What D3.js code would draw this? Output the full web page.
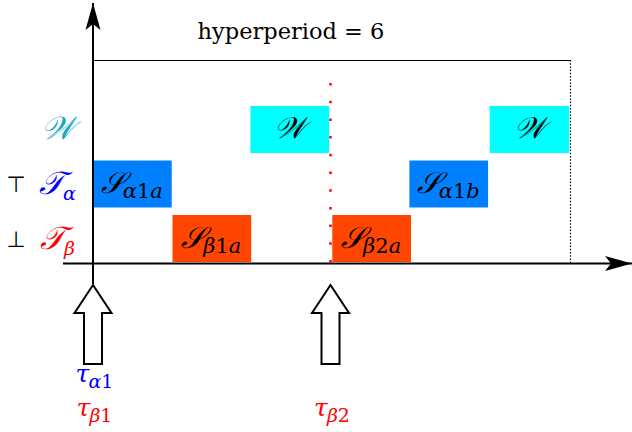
<!DOCTYPE html>
<html><head><meta charset="utf-8">
<script src="https://cdn.jsdelivr.net/npm/d3@7"></script>
<style>body{margin:0;background:#fff}svg{display:block}</style>
</head><body><svg id="c" width="632" height="432"></svg>
<script>
// ---- data ----
const rows = ["W", "Ta", "Tb"];
const rowMain = ["𝒲", "𝒯", "𝒯"];
const rowSub = ["", "α", "β"];
const rowColors = ["#1aaac4", "#0000ff", "#ff0000"];
const rowMarks = ["", "⊤", "⊥"];

const taskMain = ["𝒮", "𝒮", "𝒲", "𝒮", "𝒮", "𝒲"];
const taskSub = ["α1a", "β1a", "", "β2a", "α1b", ""];
const taskRows = ["Ta", "Tb", "W", "Tb", "Ta", "W"];
const taskStart = [0, 1, 1.98, 3.01, 3.98, 4.99];
const taskEnd = [0.99, 1.99, 2.97, 4.0, 4.97, 5.99];
const rowFill = {W: "#00ffff", Ta: "#0080ff", Tb: "#ff4500"};

const releaseTimes = [0, 3];
const releaseSubs = [["α1", "β1"], ["β2"]];
const releaseCols = [["#0000ff", "#ff0000"], ["#ff0000"]];
const deadlineTime = 3;
const hyperperiod = 6;
const hyperText = "hyperperiod = 6";

// ---- scales ----
const x = d3.scaleLinear().domain([0, hyperperiod]).range([93, 570]);
const y = d3.scaleBand().domain(rows).range([106, 262]).paddingInner(0.138).paddingOuter(0);

const svg = d3.select("#c");
const defs = svg.append("defs");
defs.append("marker").attr("id", "ah").attr("viewBox", "-28 -8 29 16")
  .attr("refX", 0).attr("refY", 0).attr("markerWidth", 29).attr("markerHeight", 16)
  .attr("markerUnits", "userSpaceOnUse").attr("orient", "auto")
  .append("path").attr("d", "M0,0 L-27,-7.5 L-21,0 L-27,7.5 Z").attr("fill", "#000");

const serif = "'DejaVu Serif', 'Liberation Serif', serif";

function mathText(sel, xx, yy, main, sub, color, mSize, sSize, anchor, drop) {
  const t = sel.append("text").attr("y", yy).attr("fill", color)
    .style("font-family", serif).style("font-size", mSize + "px").style("font-style", "italic")
    .text(main);
  const mw = t.node().getComputedTextLength();
  let s = null, sw = 0;
  if (sub) {
    s = sel.append("text").attr("y", yy + (drop != null ? drop : sSize * 0.35)).attr("fill", color)
      .style("font-family", serif).style("font-size", sSize + "px");
    for (const ch of sub) {
      s.append("tspan").text(ch).style("font-style", /[0-9]/.test(ch) ? "normal" : "italic");
    }
    sw = s.node().getComputedTextLength();
  }
  const total = mw + sw;
  const x0 = anchor === "start" ? xx : xx - total / 2;
  t.attr("x", x0);
  if (s) s.attr("x", x0 + mw - 1);
}

// blocks
const tasks = taskMain.map((m, i) => ({m, s: taskSub[i], r: taskRows[i], a: taskStart[i], b: taskEnd[i]}));
const g = svg.append("g");
g.selectAll("rect.task").data(tasks).join("rect").attr("class", "task")
  .attr("x", d => x(d.a)).attr("width", d => x(d.b) - x(d.a))
  .attr("y", d => y(d.r)).attr("height", y.bandwidth())
  .attr("fill", d => rowFill[d.r]);
tasks.forEach(d => {
  mathText(g, (x(d.a) + x(d.b)) / 2, y(d.r) + y.bandwidth() / 2 + 9, d.m, d.s, "#000", 30, 21, "middle", 5);
});

// deadline (red dotted)
svg.append("line").attr("x1", x(deadlineTime) - 1).attr("x2", x(deadlineTime) - 1)
  .attr("y1", 83).attr("y2", 263).attr("stroke", "#ff0000").attr("stroke-width", 2.5)
  .attr("stroke-dasharray", "2.5,15.2");

// hyperperiod bracket
svg.append("line").attr("x1", x(0)).attr("x2", x(hyperperiod)).attr("y1", 60.5).attr("y2", 60.5)
  .attr("stroke", "#000").attr("stroke-width", 1);
svg.append("line").attr("x1", x(hyperperiod) + 0.5).attr("x2", x(hyperperiod) + 0.5).attr("y1", 60).attr("y2", 263)
  .attr("stroke", "#000").attr("stroke-width", 1.2).attr("stroke-dasharray", "1.5,1.7");
svg.append("text").attr("x", 291).attr("y", 39).attr("text-anchor", "middle")
  .style("font-family", "'DejaVu Serif', serif").style("font-size", "22.5px").attr("fill", "#000")
  .text(hyperText);

// axes
svg.append("line").attr("x1", 63).attr("x2", 632).attr("y1", 263.5).attr("y2", 263.5)
  .attr("stroke", "#000").attr("stroke-width", 2).attr("marker-end", "url(#ah)");
svg.append("line").attr("x1", x(0)).attr("x2", x(0)).attr("y1", 284).attr("y2", 3)
  .attr("stroke", "#000").attr("stroke-width", 2).attr("marker-end", "url(#ah)");

// row labels
rows.forEach((r, i) => {
  mathText(svg, 58, y(r) + y.bandwidth() / 2 + 10, rowMain[i], rowSub[i], rowColors[i], 32, 19, "middle", 6);
  if (rowMarks[i]) svg.append("text").attr("x", 16).attr("y", y(r) + y.bandwidth() / 2 + 8)
    .attr("text-anchor", "middle").style("font-family", "'DejaVu Sans', sans-serif")
    .style("font-size", "22px").attr("fill", "#000").text(rowMarks[i]);
});

// release arrows
releaseTimes.forEach((t, i) => {
  const cx = x(t) - (i ? 1 : 0);
  const p = `M${cx},285 L${cx + 18.5},313 L${cx + 9},313 L${cx + 9},364 L${cx - 9},364 L${cx - 9},313 L${cx - 18.5},313 Z`;
  svg.append("path").attr("d", p).attr("fill", "#fff").attr("stroke", "#000").attr("stroke-width", 2)
    .attr("stroke-linejoin", "miter");
  const n = releaseSubs[i].length;
  releaseSubs[i].forEach((s, j) => {
    const row = n === 2 ? j : 1;
    mathText(svg, cx + 2, row ? 416 : 382, "τ", s, releaseCols[i][j], 25, 19, "middle", 6);
  });
});
</script></body></html>
